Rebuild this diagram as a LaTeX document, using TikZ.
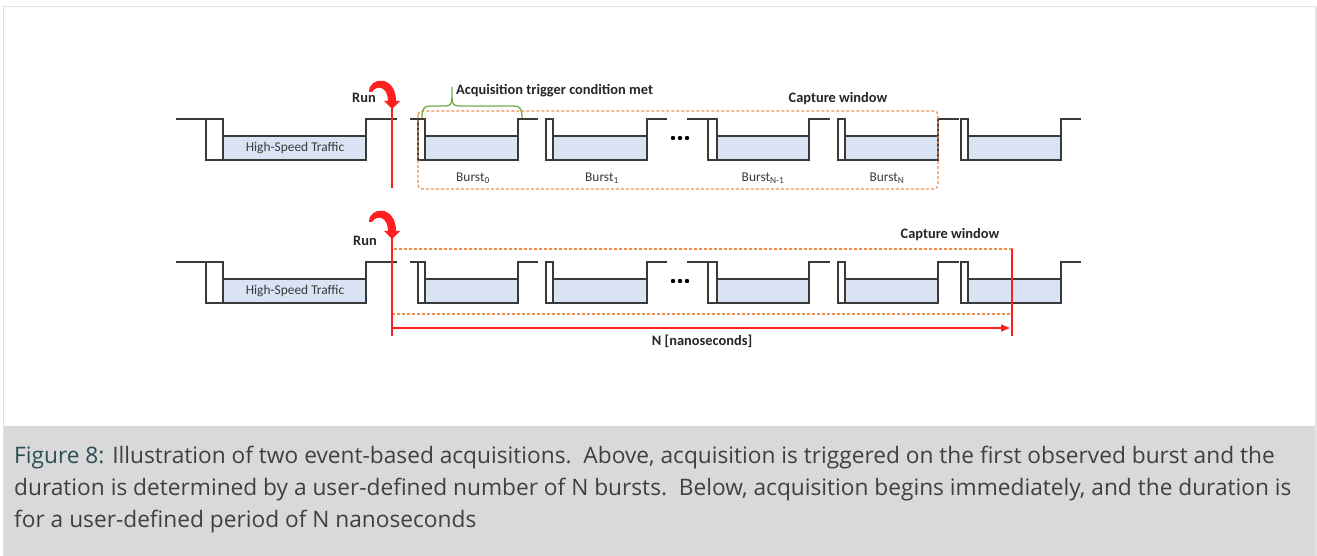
\documentclass[tikz,border=0pt]{standalone}
\usepackage{fontspec}
\setmainfont{Open Sans}
\newfontfamily\diag{Carlito}
\usetikzlibrary{arrows.meta}
\definecolor{wavegray}{HTML}{3A3A3A}
\definecolor{bluefillc}{HTML}{DAE3F3}
\definecolor{orangec}{HTML}{F0904A}
\definecolor{redc}{HTML}{FF1F1F}
\definecolor{greenc}{HTML}{70AD47}
\definecolor{capgray}{HTML}{D9D9D9}
\definecolor{captext}{HTML}{404040}
\definecolor{figlabel}{HTML}{2C4E57}
\definecolor{framec}{HTML}{E3E3E3}
\newcommand\wavepulse[5]{%
  \fill[bluefillc] (#3,136) rectangle (#4,160);
  \draw[wave] (#1,119) -- (#3,119) -- (#3,160) -- (#2,160) -- (#2,119) -- (#3,119);
  \draw[wave] (#3,136) -- (#4,136);
  \draw[wave] (#3,160) -- (#4,160) -- (#4,119) -- (#5,119);
}
% #1,#2 = tip of the curved arrow
\newcommand\runarrow[2]{%
  \fill[redc] (#1-23,#2-17) .. controls (#1-23,#2-33) and (#1+4,#2-34) .. (#1+4,#2-8)
     -- (#1+8,#2-8) -- (#1,#2) -- (#1-8,#2-8) -- (#1-4,#2-8)
     .. controls (#1-4,#2-22) and (#1-15,#2-25) .. (#1-20,#2-17) -- cycle;
}
\begin{document}
\begin{tikzpicture}[x=1pt,y=-1pt,
  wave/.style={draw=wavegray,line width=1.4pt,line join=miter},
  obox/.style={draw=orangec,line width=1.2pt,dash pattern=on 3pt off 2pt},
  redline/.style={draw=redc,line width=1.2pt},
  lbl/.style={font=\diag\fontsize{13.4}{15}\selectfont,text=wavegray,inner sep=0pt},
  blbl/.style={font=\diag\bfseries\fontsize{14.4}{16}\selectfont,text=black!85,inner sep=0pt},
  captxt/.style={font=\fontsize{22.7}{26}\selectfont,text=captext,anchor=base west,inner sep=0pt}]
\useasboundingbox (0,0) rectangle (1317,556);
\fill[white] (0,0) rectangle (1317,556);
% frame
\fill[capgray] (3,426) rectangle (1317,556);
\draw[framec,line width=1.5pt] (3.5,556) -- (3.5,6.5) -- (1316,6.5) -- (1316,556);
% waves, two rows
\foreach \dy in {0,143}{
\begin{scope}[shift={(0,\dy)}]
  \wavepulse{176}{206}{223}{366}{397}
  \wavepulse{410}{418}{425}{518}{538}
  \wavepulse{545}{546}{553}{647}{667}
  \wavepulse{687}{708}{717}{809}{830}
  \wavepulse{837}{838}{845}{938}{959}
  \wavepulse{961}{961}{968}{1061}{1081}
  \foreach \xd in {673,680,687} \fill[black] (\xd,138) circle (2.2);
\end{scope}
}
\node[lbl] (hst1) at (295,148) {High-Speed Traffic};
\node[lbl] (hst2) at (295,291) {High-Speed Traffic};
% row 1
\draw[obox,rounded corners=4pt] (418,111) rectangle (938,189);
\draw[redline] (392,100) -- (392,188);
\runarrow{392}{109}
\node[blbl] (run1) at (364,98) {Run};
\draw[greenc,line width=1.3pt] (422,118) .. controls (422,109) and (424,106) .. (430,106) -- (445,106)
  .. controls (450,106) and (452,104) .. (452,98) -- (452,87);
\draw[greenc,line width=1.3pt] (452,98) .. controls (452,104) and (454,106) .. (459,106) -- (514,106)
  .. controls (520,106) and (522,109) .. (522,118);
\node[blbl,anchor=west] (trig) at (456,91) {Acquisition trigger condition met};
\node[blbl] (cap1) at (838,99) {Capture window};
\node[lbl] (b0) at (473,178) {Burst\textsubscript{0}};
\node[lbl] (b1) at (602,178) {Burst\textsubscript{1}};
\node[lbl] (bn1) at (763,178) {Burst\textsubscript{N-1}};
\node[lbl] (bn) at (887,178) {Burst\textsubscript{N}};
% row 2
\draw[obox] (392,249) rectangle (1012,314);
\draw[redline] (392,230) -- (392,336);
\draw[redline] (1012,249) -- (1012,336);
\runarrow{392}{239}
\node[blbl] (run2) at (365,241) {Run};
\node[blbl] (cap2) at (950,235) {Capture window};
\coordinate (ns) at (392,328);
\coordinate (ne) at (1010,328);
\draw[redline,-{Triangle[length=9pt,width=7pt]}] (ns) -- (ne);
\node[blbl] (nano) at (702,341) {N [nanoseconds]};
% caption
\node[captxt] (c1) at (14,463) {{\color{figlabel}Figure 8:} Illustration of two event-based acquisitions.\ \ Above, acquisition is triggered on the first observed burst and the};
\node[captxt] (c2) at (14,495) {duration is determined by a user-defined number of N bursts.\ \ Below, acquisition begins immediately, and the duration is};
\node[captxt] (c3) at (14,527) {for a user-defined period of N nanoseconds};
\end{tikzpicture}
\end{document}
